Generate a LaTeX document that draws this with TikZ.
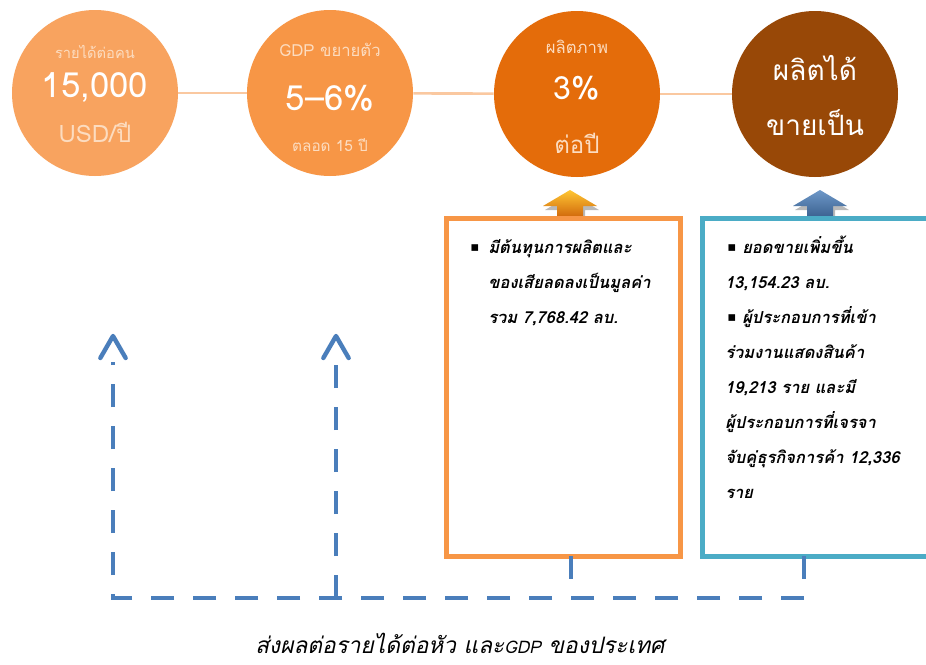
\documentclass[tikz,border=0pt]{standalone}
\usepackage{fontspec}
\usetikzlibrary{arrows.meta}
\newfontfamily\thai[Script=Thai]{Loma}
\newfontfamily\dejavu{DejaVu Sans}
\definecolor{cA}{HTML}{F8A35F}
\definecolor{cB}{HTML}{F79646}
\definecolor{cC}{HTML}{E46C0A}
\definecolor{cD}{HTML}{984807}
\definecolor{clinecol}{HTML}{FAC8A0}
\definecolor{lblcol}{HTML}{FCDCC0}
\definecolor{boxo}{HTML}{F79646}
\definecolor{boxb}{HTML}{4BACC6}
\definecolor{dashcol}{HTML}{4A7EBB}
\tikzset{
  circ/.style={circle, minimum size=124.5pt, inner sep=0pt, draw=none},
  ctsmall/.style={inner sep=0pt, text=lblcol, font=\thai\fontsize{12.5}{13}\selectfont},
  ctmid/.style={inner sep=0pt, text=lblcol, font=\thai\fontsize{18}{18}\selectfont},
  ctbig/.style={inner sep=0pt, text=white, font=\thai\fontsize{26}{26}\selectfont},
  ctname/.style={inner sep=0pt, text=white, font=\thai\fontsize{21}{21}\selectfont},
  conn/.style={draw=clinecol, line width=2pt},
  framebox/.style={draw, line width=3.75pt, minimum height=253.5pt, inner sep=0pt},
  btext/.style={inner sep=0pt, anchor=base west, font=\thai\bfseries\itshape\fontsize{12.4}{12.4}\selectfont},
  bullet/.style={inner sep=0pt, anchor=base west, font=\dejavu\fontsize{10}{10}\selectfont},
  dline/.style={draw=dashcol, line width=3.3pt, dash pattern=on 17.25pt off 14.25pt},
  chevline/.style={draw=dashcol, line width=3.3pt, line cap=round, line join=round},
  captxt/.style={inner sep=0pt, font=\thai\itshape\fontsize{17}{17}\selectfont},
}
\begin{document}
\begin{tikzpicture}[x=0.75pt, y=-0.75pt]
\clip (0,0) rectangle (926,665);
\fill[white] (0,0) rectangle (926,665);
% circles
\node[circ, fill=cA] (c1) at (95,93) {};
\node[circ, fill=cB] (c2) at (330,93) {};
\node[circ, fill=cC] (c3) at (577,94) {};
\node[circ, fill=cD] (c4) at (815,94) {};
\draw[conn] (c1) -- (c2);
\draw[conn] (c2) -- (c3);
\draw[conn] (c3) -- (c4);
% circle texts
\node[ctsmall, font=\thai\fontsize{11}{11}\selectfont] (c1a) at (95,52) {รายได้ต่อคน};
\node[ctbig] (c1b) at (95,88) {15,000};
\node[ctmid] (c1c) at (95,132) {USD/ปี};
\node[ctsmall] (c2a) at (330,50) {GDP ขยายตัว};
\node[ctbig] (c2b) at (330,98) {5–6\%};
\node[ctsmall, font=\thai\fontsize{11.5}{12}\selectfont] (c2c) at (330,145) {ตลอด 15 ปี};
\node[ctsmall] (c3a) at (577,47) {ผลิตภาพ};
\node[ctbig, font=\thai\fontsize{24}{24}\selectfont] (c3b) at (577,88) {3\%};
\node[ctmid] (c3c) at (577,143) {ต่อปี};
\node[ctname] (c4a) at (815,68) {ผลิตได้};
\node[ctname] (c4b) at (815,123) {ขายเป็น};
% block arrows
\fill[gray!55] (572,194) -- (599,210) -- (585,210) -- (585,219) -- (559,219) -- (559,210) -- (545,210) -- cycle;
\shade[top color=orange!55!yellow!80!white, bottom color=cC!90!black] (570,190) -- (597,206) -- (583,206) -- (583,219) -- (557,219) -- (557,206) -- (543,206) -- cycle;
\fill[gray!55] (822,194) -- (849,210) -- (835,210) -- (835,219) -- (809,219) -- (809,210) -- (795,210) -- cycle;
\shade[top color=dashcol!80!white, bottom color=dashcol!75!black] (820,190) -- (847,206) -- (833,206) -- (833,219) -- (807,219) -- (807,206) -- (793,206) -- cycle;
% boxes
\node[framebox, draw=boxo, minimum width=175.5pt] (bo) at (563,387) {};
\node[framebox, draw=boxb, minimum width=180pt] (bb) at (822,387) {};
% orange box text
\node[bullet] (o0) at (470,251) {▪};
\node[btext] (o1) at (488,253) {มีต้นทุนการผลิตและ};
\node[btext] (o2) at (488,288) {ของเสียลดลงเป็นมูลค่า};
\node[btext] (o3) at (488,323) {รวม 7,768.42 ลบ.};
% blue box text
\node[bullet] (b0) at (727,251) {▪};
\node[btext] (b1) at (742,253) {ยอดขายเพิ่มขึ้น};
\node[btext] (b2) at (725,288) {13,154.23 ลบ.};
\node[bullet] (b3b) at (727,321) {▪};
\node[btext] (b3) at (742,323) {ผู้ประกอบการที่เข้า};
\node[btext] (b4) at (725,358) {ร่วมงานแสดงสินค้า};
\node[btext] (b5) at (725,393) {19,213 ราย และมี};
\node[btext] (b6) at (725,428) {ผู้ประกอบการที่เจรจา};
\node[btext] (b7) at (725,463) {จับคู่ธุรกิจการค้า 12,336};
\node[btext] (b8) at (725,498) {ราย};
% dashed connectors
\coordinate (so) at (571,556);
\coordinate (sb) at (804,556);
\coordinate (kb) at (804,598);
\coordinate (ko) at (571,598);
\coordinate (k1) at (113,598);
\coordinate (k2) at (336,598);
\coordinate (u1) at (113,362);
\coordinate (u2) at (336,362);
\coordinate (t1) at (113,336);
\coordinate (t2) at (336,336);
\draw[dline] (so) -- (ko);
\draw[dline] (sb) -- (kb) -- (k1) -- (u1);
\draw[dline] (k2) -- (u2);
\draw[chevline] ([xshift=-9.5pt,yshift=-16.5pt]t1) -- (t1) -- ([xshift=9.5pt,yshift=-16.5pt]t1);
\draw[chevline] ([xshift=-9.5pt,yshift=-16.5pt]t2) -- (t2) -- ([xshift=9.5pt,yshift=-16.5pt]t2);
% caption
\node[captxt] (capt) at (460,643) {ส่งผลต่อรายได้ต่อหัว และ{\fontsize{13}{13}\selectfont GDP} ของประเทศ};
\end{tikzpicture}
\end{document}
